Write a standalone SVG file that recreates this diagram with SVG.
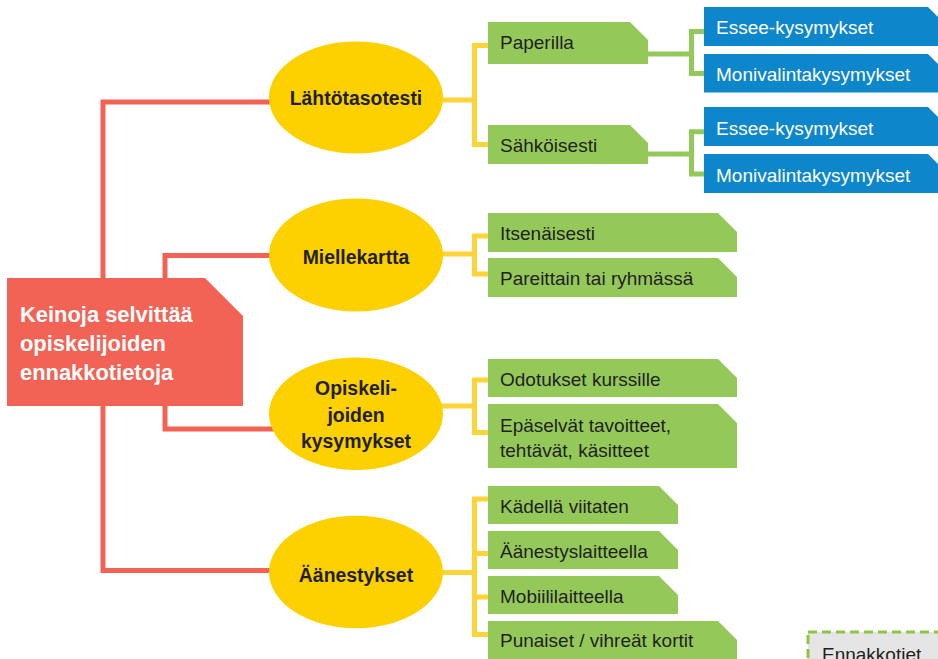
<svg xmlns="http://www.w3.org/2000/svg" width="938" height="659" viewBox="0 0 938 659">
<style>
text{font-family:"Liberation Sans",Arial,Helvetica,sans-serif;}
.red{fill:none;stroke:#F26355;stroke-width:5;}
.yel{fill:none;stroke:#FDD33A;stroke-width:5;}
.grn{fill:none;stroke:#92C95A;stroke-width:5;}
.root{fill:#F26355;}
.ell{fill:#FDD000;}
.gbox{fill:#94C95A;}
.bbox{fill:#0D86CB;}
.rt{fill:#FFFFFF;font-size:21.9px;font-weight:bold;}
.et{fill:#231F20;font-size:19.4px;font-weight:bold;text-anchor:middle;}
.gt{fill:#231F20;font-size:19px;}
.bt{fill:#FFFFFF;font-size:19px;}
</style>
<rect width="938" height="659" fill="#FFFFFF"/>
<g id="connectors">
  <path class="red" d="M272,102 H103 V280"/>
  <path class="red" d="M272,255.5 H165 V280"/>
  <path class="red" d="M165,404 V429 H274"/>
  <path class="red" d="M103,404 V570.5 H272"/>
  <path class="yel" d="M440,100 H474.5"/>
  <path class="yel" d="M490,45.5 H474.5 V144.5 H490"/>
  <path class="yel" d="M440,254 H474.5"/>
  <path class="yel" d="M490,236 H474.5 V274 H490"/>
  <path class="yel" d="M440,406 H474.5"/>
  <path class="yel" d="M490,380 H474.5 V432.5 H490"/>
  <path class="yel" d="M440,572.5 H474.5"/>
  <path class="yel" d="M490,499 H474.5 V634.5 H490"/>
  <path class="yel" d="M474.5,553.5 H490 M474.5,597 H490"/>
  <path class="grn" d="M646,54 H691.5"/>
  <path class="grn" d="M706,31.5 H691.5 V73.5 H706"/>
  <path class="grn" d="M646,154 H691.5"/>
  <path class="grn" d="M706,131.8 H691.5 V174 H706"/>
</g>
<g id="root">
  <path class="root" d="M7,278 H205 L243,316 V406 H7 Z"/>
  <text class="rt" x="20" y="322">Keinoja selvittää</text>
  <text class="rt" x="20" y="351">opiskelijoiden</text>
  <text class="rt" x="20" y="379.5">ennakkotietoja</text>
</g>
<g id="lahtotasotesti">
  <ellipse class="ell" cx="356" cy="97.5" rx="87" ry="56"/>
  <text class="et" x="356" y="105">Lähtötasotesti</text>
</g>
<g id="miellekartta">
  <ellipse class="ell" cx="356" cy="255" rx="87" ry="56.5"/>
  <text class="et" x="356" y="263.5">Miellekartta</text>
</g>
<g id="opiskelijoiden">
  <ellipse class="ell" cx="356" cy="413.7" rx="87" ry="56.3"/>
  <text class="et" x="356" y="395">Opiskeli-</text>
  <text class="et" x="356" y="421.5">joiden</text>
  <text class="et" x="356" y="448">kysymykset</text>
</g>
<g id="aanestykset">
  <ellipse class="ell" cx="356" cy="572" rx="87" ry="56.3"/>
  <text class="et" x="356" y="582">Äänestykset</text>
</g>
<g id="paperilla">
  <path class="gbox" d="M488,22 H630 L648,40 V64 H488 Z"/>
  <text class="gt" x="500" y="49">Paperilla</text>
</g>
<g id="sahkoisesti">
  <path class="gbox" d="M488,125 H630 L648,143 V164 H488 Z"/>
  <text class="gt" x="500" y="152">Sähköisesti</text>
</g>
<g id="essee1">
  <path class="bbox" d="M704,7 H928 L946,25 V46 H704 Z"/>
  <text class="bt" x="716" y="34">Essee-kysymykset</text>
</g>
<g id="monivalinta1">
  <path class="bbox" d="M704,54 H928 L946,72 V92.5 H704 Z"/>
  <text class="bt" x="716" y="81">Monivalintakysymykset</text>
</g>
<g id="essee2">
  <path class="bbox" d="M704,107 H928 L946,125 V146 H704 Z"/>
  <text class="bt" x="716" y="135">Essee-kysymykset</text>
</g>
<g id="monivalinta2">
  <path class="bbox" d="M704,154 H928 L946,172 V193 H704 Z"/>
  <text class="bt" x="716" y="181.5">Monivalintakysymykset</text>
</g>
<g id="itsenaisesti">
  <path class="gbox" d="M488,213 H718 L737,232 V252 H488 Z"/>
  <text class="gt" x="500" y="240">Itsenäisesti</text>
</g>
<g id="pareittain">
  <path class="gbox" d="M488,258 H718 L737,277 V297 H488 Z"/>
  <text class="gt" x="500" y="285">Pareittain tai ryhmässä</text>
</g>
<g id="odotukset">
  <path class="gbox" d="M488,359 H718 L737,378 V397 H488 Z"/>
  <text class="gt" x="500" y="385.5">Odotukset kurssille</text>
</g>
<g id="epaselvat">
  <path class="gbox" d="M488,404 H718 L737,423 V468 H488 Z"/>
  <text class="gt" x="500" y="431.5">Epäselvät tavoitteet,</text>
  <text class="gt" x="500" y="457">tehtävät, käsitteet</text>
</g>
<g id="kadella">
  <path class="gbox" d="M488,486 H659 L678,505 V524 H488 Z"/>
  <text class="gt" x="500" y="512.5">Kädellä viitaten</text>
</g>
<g id="aanestyslaitteella">
  <path class="gbox" d="M488,531 H659 L678,550 V569 H488 Z"/>
  <text class="gt" x="500" y="557.5">Äänestyslaitteella</text>
</g>
<g id="mobiililaitteella">
  <path class="gbox" d="M488,576 H659 L678,595 V614 H488 Z"/>
  <text class="gt" x="500" y="602.5">Mobiililaitteella</text>
</g>
<g id="punaiset">
  <path class="gbox" d="M488,621 H718 L737,640 V670 H488 Z"/>
  <text class="gt" x="500" y="647">Punaiset / vihreät kortit</text>
</g>
<g id="ennakkotiet">
  <rect x="808" y="632" width="150" height="45" fill="#E5E5E5" stroke="#8DC63F" stroke-width="3" stroke-dasharray="9 5"/>
  <text class="gt" x="822" y="661">Ennakkotiet</text>
</g>
</svg>
